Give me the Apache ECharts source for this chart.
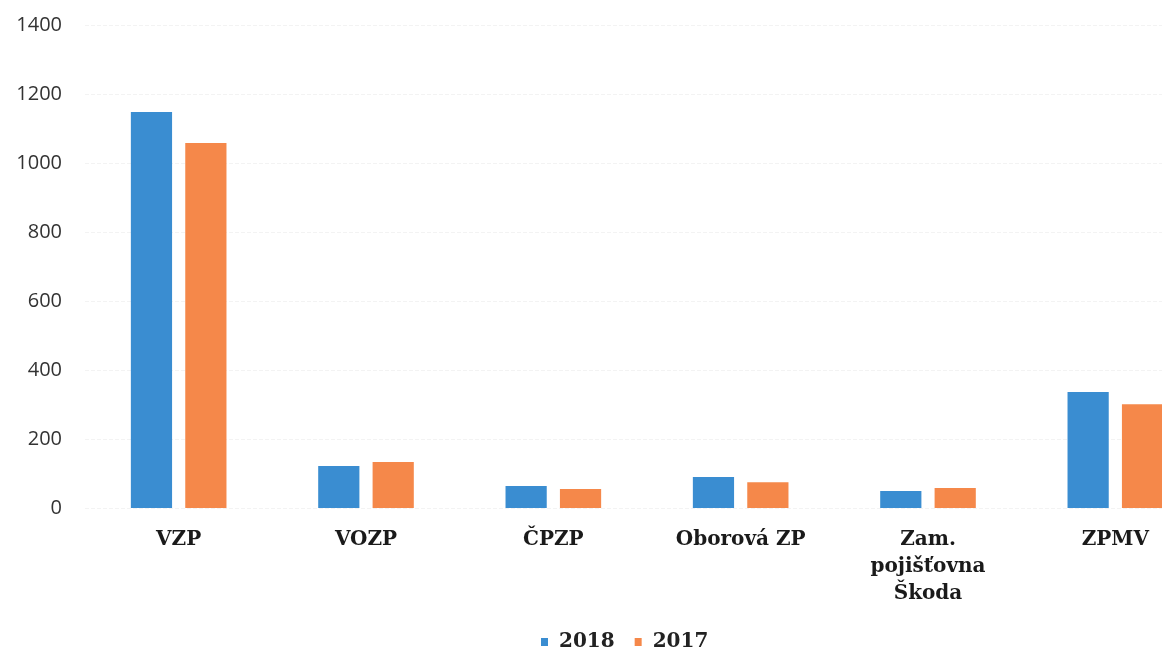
<!DOCTYPE html>
<html>
<head>
<meta charset="utf-8">
<script src="https://cdn.jsdelivr.net/npm/echarts@6/dist/echarts.min.js"></script>
<style>
  html, body { margin: 0; padding: 0; background: #fff; overflow: hidden; width: 1162px; height: 654px; }
  /* plot runs past the right edge of the picture, like the cropped original */
  #chart { width: 1209px; height: 654px; }
</style>
</head>
<body>
<div id="chart"></div>
<script>
var categories = ['VZP', 'VOZP', 'ČPZP', 'Oborová ZP', 'Zam.\npojišťovna\nŠkoda', 'ZPMV'];
var values2018 = [1148, 122, 64, 90, 49, 336];
var values2017 = [1058, 133, 55, 75, 58, 301];
var yTicks = [0, 200, 400, 600, 800, 1000, 1200, 1400];

var chart = echarts.init(document.getElementById('chart'));

var option = {
  animation: false,
  grid: { left: 85, right: 0, top: 25, bottom: 146 },
  legend: {
    data: ['2018', '2017'],
    top: 627,
    left: 536,
    itemWidth: 7,
    itemHeight: 8,
    itemGap: 20,
    icon: 'rect',
    textStyle: {
      fontFamily: 'DejaVu Serif',
      fontWeight: 'bold',
      fontSize: 20,
      color: '#222',
      padding: [0, 0, 0, 6]
    }
  },
  xAxis: {
    type: 'category',
    data: categories,
    axisLine: { show: false },
    axisTick: { show: false },
    axisLabel: {
      interval: 0,
      margin: 18,
      fontFamily: 'DejaVu Serif',
      fontWeight: 'bold',
      fontSize: 20,
      lineHeight: 27,
      color: '#1a1a1a'
    }
  },
  yAxis: {
    type: 'value',
    min: yTicks[0],
    max: yTicks[yTicks.length - 1],
    interval: 200,
    axisLabel: {
      margin: 23,
      fontFamily: 'Open Sans',
      fontSize: 20,
      color: '#333',
      formatter: function (v) { return String(v); }
    },
    splitLine: { lineStyle: { color: '#f3f3f3', type: 'dashed' } }
  },
  series: [
    {
      name: '2018',
      type: 'bar',
      data: values2018,
      barWidth: '22%',
      barGap: '32%',
      itemStyle: { color: '#3a8dd1' }
    },
    {
      name: '2017',
      type: 'bar',
      data: values2017,
      barWidth: '22%',
      itemStyle: { color: '#f5884a' }
    }
  ]
};

chart.setOption(option);
</script>
</body>
</html>
